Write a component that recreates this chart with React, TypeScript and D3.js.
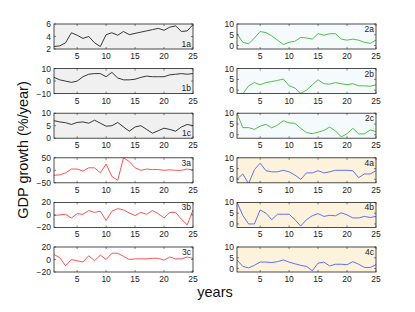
import React from 'react';
import * as d3 from 'd3';

const years = d3.range(1, 26);

const s1a = [2.4, 2.5, 3.0, 4.6, 4.2, 3.7, 4.0, 3.0, 2.4, 4.3, 4.6, 4.2, 4.8, 4.3, 4.5, 4.7, 4.9, 5.1, 5.3, 5.0, 5.5, 5.7, 4.8, 4.9, 5.9];
const s1b = [3, 1, 0, -1, 0, 3.5, 5.5, 6, 6, 3.5, 7, 2.5, 1, 1, 1.5, 3, 4, 3.5, 3.5, 3.5, 5, 5.5, 6, 5.5, 6];
const s1c = [7, 6.5, 6.2, 5.5, 6.3, 6.5, 6, 7.2, 6, 4.8, 5, 6.3, 4.5, 2.8, 4.5, 5, 3.5, 2, 3, 4, 3.5, 2.8, 4.5, 5.5, 5];
const s3a = [-20, -18, -10, 5, 5, -3, 10, 10, -10, 25, -25, -40, 50, 35, 10, 0, 5, 3, 3, 0, 2, 0, 0, 5, 2];
const s3b = [-1, 0, 1, -5, 2, 1, 7, 4, 6, -9, 6, 10, 8, 3, -1, 4, 1, 7, 2, -5, 4, 4, -7, -16, 8];
const s3c = [8, 3, -10, 0, -2, -4, 6, -2, 7, 0, 10, 10, 5, 0, 1, 1, 1, 2, 2, -1, 4, 1, 1, 4, 2];
const s2a = [5.5, 1.5, 0.8, 3.5, 6.5, 6, 4.5, 2.5, 0.5, 1.5, 2, 3.8, 3.5, 3, 5.5, 4.8, 5.5, 5.5, 3, 2.5, 3, 2.5, 1.5, 1, 2.5];
const s2b = [-2, -1.8, 2, 3.5, 2.5, 3.5, 4, 4.5, 5.2, 2, 1, -1.5, 0, 2.5, 4.8, 3, 2.8, 3.5, 3, 2.5, 3, 2, 2, 1.8, 2.5];
const s2c = [10, 3.3, 3.3, 2.5, 4, 4.8, 3.2, 4.5, 6.5, 5.5, 5.3, 3, 1, 0.5, 1.2, 2, 3.6, 1.8, -1, 0.5, 3, 0.4, 0.4, 2.2, 1.5];
const s4a = [0, 2.5, -2, 4.5, 7.5, 4, 3.5, 3.5, 4.2, 3.5, 2, 0, 3, 3, 4, 3, 3.5, 4.2, 4.2, 4.2, 4, 0.8, 2.5, 2.5, 4];
const s4b = [10, 4, 0, 0, 6.5, 5, 2, 4.5, 4.5, 4.5, 2, -1, 2, 3.8, 4.8, 3.5, 4, 3.8, 5.2, 4.2, 2.8, 2.8, 3.5, 3, 3.5];
const s4c = [4, 1, 0.3, 1.5, 3, 3, 2.8, 3.2, 4, 3, 2.2, 1.5, 1, -1, 2.5, 3, 1.2, 2, 2, 1.8, 3.2, 2, 0.5, 0.5, 1.8];

const xTicks = [5, 10, 15, 20, 25];

const panels = [
  { name: '1a', data: s1a, dom: [2, 6], ticks: [2, 4, 6], col: 0, row: 0, color: '#222', bg: '#f0f0f0', labelBottom: true },
  { name: '1b', data: s1b, dom: [-10, 10], ticks: [-10, 0, 10], col: 0, row: 1, color: '#222', bg: '#f0f0f0', labelBottom: true },
  { name: '1c', data: s1c, dom: [0, 10], ticks: [0, 5, 10], col: 0, row: 2, color: '#222', bg: '#f0f0f0', labelBottom: true },
  { name: '3a', data: s3a, dom: [-50, 50], ticks: [-50, 0, 50], col: 0, row: 3, color: '#ff4040', bg: '#ffffff', labelBottom: false },
  { name: '3b', data: s3b, dom: [-20, 20], ticks: [-20, 0, 20], col: 0, row: 4, color: '#ff4040', bg: '#ffffff', labelBottom: false },
  { name: '3c', data: s3c, dom: [-20, 20], ticks: [-20, 0, 20], col: 0, row: 5, color: '#ff4040', bg: '#ffffff', labelBottom: false },
  { name: '2a', data: s2a, dom: [-1.6, 10], ticks: [0, 5, 10], col: 1, row: 0, color: '#40b830', bg: '#f5fbfd', labelBottom: false },
  { name: '2b', data: s2b, dom: [-1.6, 10], ticks: [0, 5, 10], col: 1, row: 1, color: '#40b830', bg: '#f5fbfd', labelBottom: false },
  { name: '2c', data: s2c, dom: [-1.6, 10], ticks: [0, 5, 10], col: 1, row: 2, color: '#40b830', bg: '#f5fbfd', labelBottom: false },
  { name: '4a', data: s4a, dom: [-1.6, 10], ticks: [0, 5, 10], col: 1, row: 3, color: '#5060ff', bg: '#fdf3dd', labelBottom: false },
  { name: '4b', data: s4b, dom: [-1.6, 10], ticks: [0, 5, 10], col: 1, row: 4, color: '#5060ff', bg: '#fdf3dd', labelBottom: false },
  { name: '4c', data: s4c, dom: [-1.6, 10], ticks: [0, 5, 10], col: 1, row: 5, color: '#5060ff', bg: '#fdf3dd', labelBottom: false },
];

const colX = [54, 237];
const pw = 139;
const ph = 25;
const rowTop = (r: number) => 24 + r * 44.6;
const font = 'Liberation Sans, Arial, sans-serif';

function Panel({ p }: { p: any }) {
  const left = colX[p.col];
  const top = rowTop(p.row);
  const x = d3.scaleLinear().domain([1, 25]).range([0, pw]);
  const y = d3.scaleLinear().domain(p.dom).range([ph, 0]);
  const line = d3.line<number>().x((d, i) => x(years[i])).y(d => y(d));
  const clipId = 'clip' + p.name;
  return (
    <g transform={`translate(${left},${top})`}>
      <defs>
        <clipPath id={clipId}><rect width={pw} height={ph} /></clipPath>
      </defs>
      <rect width={pw} height={ph} fill={p.bg} />
      <path d={line(p.data) || ''} fill="none" stroke={p.color} strokeWidth={0.9} clipPath={`url(#${clipId})`} />
      {xTicks.map(t => (
        <g key={t}>
          <line x1={x(t)} x2={x(t)} y1={ph} y2={ph - 2} stroke="#333" strokeWidth={0.6} />
          <line x1={x(t)} x2={x(t)} y1={0} y2={2} stroke="#333" strokeWidth={0.6} />
          <text x={x(t)} y={ph + 10} fontSize={8.5} textAnchor="middle" fill="#222" fontFamily={font}>{t}</text>
        </g>
      ))}
      {p.ticks.map((t: number) => (
        <g key={t}>
          <line x1={0} x2={2} y1={y(t)} y2={y(t)} stroke="#333" strokeWidth={0.6} />
          <line x1={pw} x2={pw - 2} y1={y(t)} y2={y(t)} stroke="#333" strokeWidth={0.6} />
          <text x={-3} y={y(t) + 3} fontSize={8.5} textAnchor="end" fill="#222" fontFamily={font}>{t < 0 ? '\u2212' + Math.abs(t) : t}</text>
        </g>
      ))}
      <rect width={pw} height={ph} fill="none" stroke="#222" strokeWidth={0.8} />
      <text x={pw - 2} y={p.labelBottom ? ph - 2.5 : 8} fontSize={8.5} textAnchor="end" fill="#222" fontFamily={font}>{p.name}</text>
    </g>
  );
}

export default function App() {
  return (
    <svg width={415} height={312} style={{ position: 'absolute', left: 0, top: 0, background: '#fff' }}>
      {panels.map(p => <Panel key={p.name} p={p} />)}
      <text transform="translate(28,150) rotate(-90)" textAnchor="middle" fontSize={14.5} fill="#111" fontFamily={font}>GDP growth (%/year)</text>
      <text x={215} y={297} textAnchor="middle" fontSize={14.5} fill="#111" fontFamily={font}>years</text>
    </svg>
  );
}
